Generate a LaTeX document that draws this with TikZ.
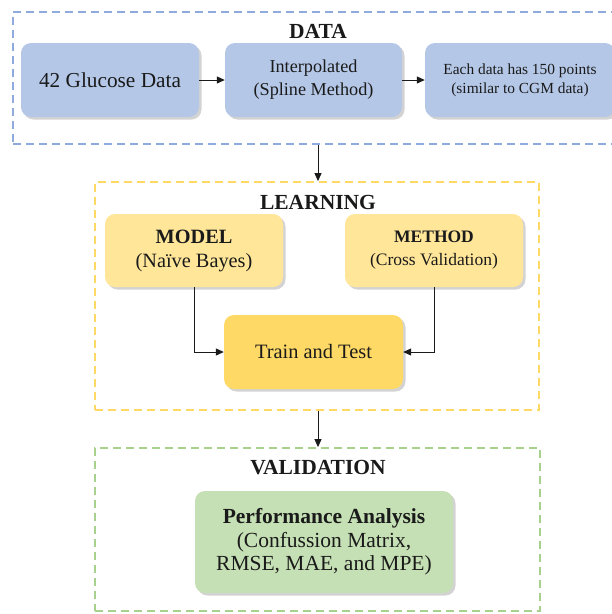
\documentclass[tikz,border=0pt]{standalone}
\usepackage{fontspec}
\setmainfont{Liberation Serif}
\usetikzlibrary{arrows.meta,shadows}
\definecolor{bluebox}{HTML}{B4C7E7}
\definecolor{blueframe}{HTML}{8FAADC}
\definecolor{yellowlight}{HTML}{FFE699}
\definecolor{yellowdark}{HTML}{FFD966}
\definecolor{yellowframe}{HTML}{FFD966}
\definecolor{greenbox}{HTML}{C5E0B4}
\definecolor{greenframe}{HTML}{A9D18E}
\definecolor{ink}{HTML}{1A1A1A}
\tikzset{
  box/.style={rectangle, rounded corners=10pt, inner sep=0pt, align=center, text=ink,
    drop shadow={shadow xshift=2.5pt, shadow yshift=-2.5pt, opacity=0.35}},
  frame/.style={rectangle, draw, line width=1.8pt, dash pattern=on 8pt off 5pt, inner sep=0pt},
  title/.style={font=\bfseries\fontsize{21.5}{24}\selectfont, text=ink, inner sep=0pt},
  conn/.style={draw=ink, line width=1pt, -{Triangle[length=8pt,width=7pt]}},
}
\begin{document}
\begin{tikzpicture}[x=1pt,y=-1pt]
\path[use as bounding box] (0,0) rectangle (612,614);
\clip (0,0) rectangle (612,614);
% frames
\node[frame, draw=blueframe, minimum width=627pt, minimum height=132pt] (fdata) at (326.5,78) {};
\node[frame, draw=yellowframe, minimum width=444pt, minimum height=228pt] (flearn) at (317,296) {};
\node[frame, draw=greenframe, minimum width=445pt, minimum height=163pt] (fval) at (317.5,529.5) {};
% titles
\node[title] (tdata) at (318,31) {DATA};
\node[title] (tlearn) at (318,202) {LEARNING};
\node[title] (tval) at (318,468) {VALIDATION};
% data boxes
\node[box, fill=bluebox, minimum width=178pt, minimum height=74pt,
  font=\fontsize{21.3}{25}\selectfont] (glu) at (110,80) {42 Glucose Data};
\node[box, fill=bluebox, minimum width=177pt, minimum height=74pt,
  font=\fontsize{18.2}{23}\selectfont] (interp) at (313.5,80) {Interpolated\\(Spline Method)};
\node[box, fill=bluebox, minimum width=190pt, minimum height=74pt,
  font=\fontsize{15.4}{19}\selectfont] (each) at (520,80) {Each data has 150 points\\(similar to CGM data)};
% learning boxes
\node[box, fill=yellowlight, minimum width=178pt, minimum height=73pt,
  font=\fontsize{20.3}{24}\selectfont] (model) at (194,250.5) {\textbf{MODEL}\\(Naïve Bayes)};
\node[box, fill=yellowlight, minimum width=178pt, minimum height=73pt,
  font=\fontsize{17.5}{23}\selectfont] (method) at (434,250.5) {\textbf{METHOD}\\(Cross Validation)};
\node[box, fill=yellowdark, minimum width=179pt, minimum height=74pt,
  font=\fontsize{20.4}{24}\selectfont] (train) at (313.5,352) {Train and Test};
% validation box
\node[box, fill=greenbox, minimum width=258pt, minimum height=102pt,
  font=\fontsize{21.5}{23.5}\selectfont] (perf) at (324,542) {\textbf{Performance Analysis}\\(Confussion Matrix,\\RMSE, MAE, and MPE)};
% connectors
\draw[conn] (glu) -- (interp);
\draw[conn] (interp) -- (each);
\draw[conn] (fdata.south -| tdata) -- (flearn.north -| tdata);
\draw[conn] (flearn.south -| tdata) -- (fval.north -| tdata);
\draw[conn] (model.south) |- (train.west);
\draw[conn] (method.south) |- (train.east);
\end{tikzpicture}
\end{document}
